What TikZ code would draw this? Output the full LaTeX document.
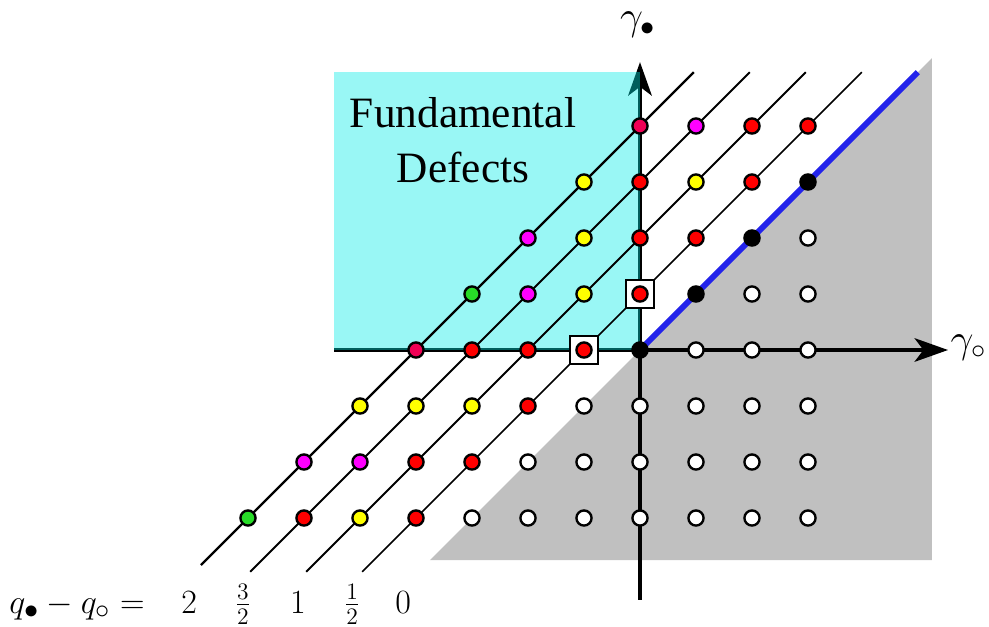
\documentclass[tikz,border=0pt]{standalone}
\usepackage{fontspec}
\newfontfamily\tnr{Liberation Serif}
\usetikzlibrary{arrows.meta}
\definecolor{crim}{RGB}{240,0,85}
\definecolor{mag}{RGB}{255,0,255}
\definecolor{yel}{RGB}{255,255,0}
\definecolor{rd}{RGB}{255,0,0}
\definecolor{grn}{RGB}{40,220,40}
\definecolor{shgrey}{RGB}{192,192,192}
\definecolor{fundcol}{RGB}{0,235,230}
\definecolor{bl}{RGB}{35,35,235}
\begin{document}
\begin{tikzpicture}[
  dot/.style={circle, draw=black, line width=1.2pt, minimum size=0.27cm, inner sep=0pt},
  boxed/.style={draw=black, fill=white, line width=0.8pt, minimum size=0.5cm, inner sep=0pt},
  axis/.style={line width=1.6pt, -{Stealth[length=17pt, width=12pt, inset=4.5pt]}},
  lbl/.style={inner sep=0pt, font=\fontsize{19}{22}\selectfont},
  flbl/.style={inner sep=0pt, font=\fontsize{17}{20}\selectfont},
  glbl/.style={inner sep=0pt, font=\fontsize{20}{24}\selectfont},
]
\useasboundingbox (-11.4286,-4.946) rectangle (6.232,6.25);
% shaded region
\fill[shgrey] (5.214,5.214) -- (5.214,-3.75) -- (-3.75,-3.75) -- cycle;
% axes
\coordinate (O) at (0,0);
\coordinate (xl) at (-5.464,0);
\coordinate (xr) at (5.5,0);
\coordinate (yb) at (0,-4.464);
\coordinate (yt) at (0,5.14);
\draw[axis] (xl) -- (xr);
\draw[axis] (yb) -- (yt);
% fundamental region
\fill[fundcol, opacity=0.4] (-5.464,0) rectangle (0,4.964);
\node[inner sep=0pt, align=center, font=\tnr\fontsize{22}{27.8}\selectfont] (fund) at (-3.16,3.75) {Fundamental\\Defects};
% blue line
\coordinate (bt) at (4.96,4.96);
\draw[bl, line width=3pt] (O) -- (bt);
% diagonal lines
\coordinate (l4a) at (-7.84,-3.84); \coordinate (l4b) at (0.96,4.96);
\coordinate (l3a) at (-6.96,-3.96); \coordinate (l3b) at (1.96,4.96);
\coordinate (l2a) at (-5.96,-3.96); \coordinate (l2b) at (2.96,4.96);
\coordinate (l1a) at (-4.96,-3.96); \coordinate (l1b) at (3.96,4.96);
\draw[line width=1.2pt] (l4a) -- (l4b);
\draw[line width=1.05pt] (l3a) -- (l3b);
\draw[line width=0.9pt] (l2a) -- (l2b);
\draw[line width=0.8pt] (l1a) -- (l1b);
% boxes
\node[boxed] (b1) at (0,1) {};
\node[boxed] (b2) at (-1,0) {};
% coloured dots
\foreach \x/\y/\c in {
  0/4/crim, -4/0/crim,
  1/4/mag, -2/2/mag, -2/1/mag, -6/-2/mag, -5/-2/mag,
  -1/3/yel, -5/-1/yel, -1/2/yel, -4/-1/yel, 1/3/yel, -1/1/yel, -3/-1/yel, -5/-3/yel,
  -3/1/grn, -7/-3/grn,
  2/4/rd, 3/4/rd, 0/3/rd, 2/3/rd, 0/2/rd, 1/2/rd, 0/1/rd, -3/0/rd, -2/0/rd, -1/0/rd,
  -2/-1/rd, -4/-2/rd, -3/-2/rd, -6/-3/rd, -4/-3/rd,
  0/0/black, 1/1/black, 2/2/black, 3/3/black}
  \node[dot, fill=\c] (p\x\y) at (\x,\y) {};
% white dots
\foreach \y in {-3,...,2}{
  \pgfmathtruncatemacro{\xs}{\y<0 ? \y : \y+1}
  \foreach \x in {\xs,...,3}
    \node[dot, fill=white] (w\x\y) at (\x,\y) {};
}
% labels
\node[glbl, anchor=base west] (gb) at (-0.36,5.72) {$\gamma_\bullet$};
\node[glbl, anchor=base west] (gc) at (5.54,-0.05) {$\gamma_\circ$};
\node[lbl, anchor=base west] (qq) at (-11.27,-4.70) {$q_\bullet - q_\circ =$};
\node[lbl, anchor=base] (n2) at (-8.05,-4.70) {$2$};
\node[flbl, anchor=base] (n32) at (-7.09,-4.70) {$\frac{3}{2}$};
\node[lbl, anchor=base] (n1) at (-6.11,-4.70) {$1$};
\node[flbl, anchor=base] (n12) at (-5.14,-4.70) {$\frac{1}{2}$};
\node[lbl, anchor=base] (n0) at (-4.23,-4.70) {$0$};
\end{tikzpicture}
\end{document}
